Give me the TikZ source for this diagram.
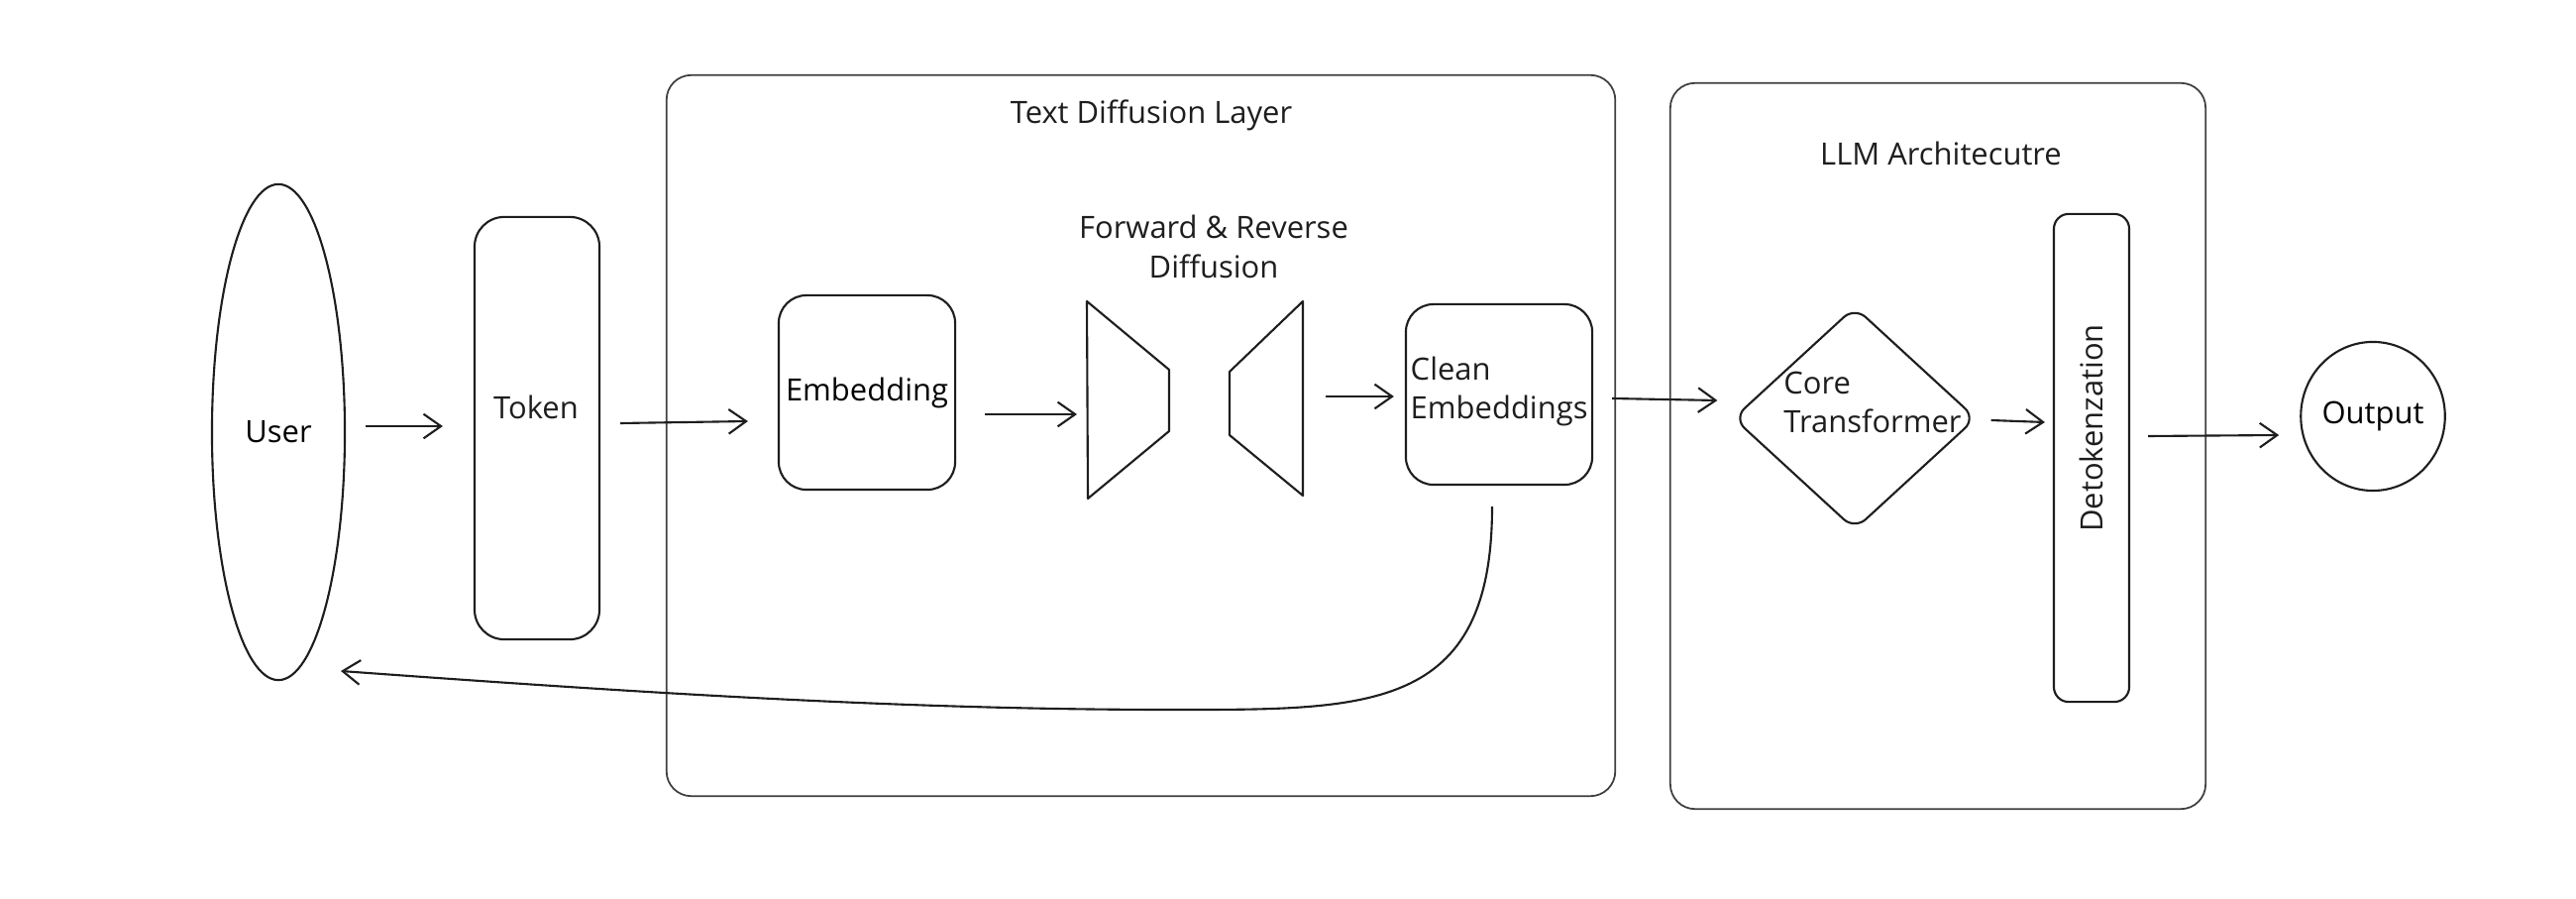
\documentclass[tikz,border=0pt]{standalone}
\usepackage{fontspec}
\setmainfont{Open Sans}
\usetikzlibrary{shapes.geometric,arrows.meta,calc}
\definecolor{ink}{HTML}{1E1E1E}
\begin{document}
\begin{tikzpicture}[x=0.01cm,y=-0.01cm,
  font=\fontsize{8.8}{11.3}\selectfont,
  box/.style={draw=ink, line width=0.6pt, rounded corners=0.28cm, inner sep=0pt},
  frame/.style={draw=ink!85, line width=0.5pt, rounded corners=0.25cm, inner sep=0pt},
  roundshape/.style={draw=ink, line width=0.6pt, ellipse, inner sep=0pt},
  trap/.style={draw=ink, line width=0.6pt, line join=round},
  arr/.style={draw=ink, line width=0.6pt, -{Straight Barb[length=5pt,width=7pt]}},
  lbl/.style={text=ink, inner sep=0pt}]
\useasboundingbox (0,0) rectangle (2600,907);
\fill[white] (0,0) rectangle (2600,907);

% containers
\node[frame, minimum width=9.57cm, minimum height=7.27cm] (tdl) at (1151.5,439.5) {};
\node[lbl] (tdlt) at (1162,116) {Text Diffusion Layer};
\node[frame, minimum width=5.40cm, minimum height=7.32cm] (llm) at (1956,450) {};
\node[lbl] (llmt) at (1959,155) {LLM Architecutre};

% nodes
\node[roundshape, minimum width=1.34cm, minimum height=5cm] (user) at (281,436) {User};
\node[box, rounded corners=0.3cm, minimum width=1.26cm, minimum height=4.26cm] (token) at (542,432) {};
\node[lbl] (tokent) at (541,411) {Token};
\node[box, minimum width=1.78cm, minimum height=1.96cm] (emb) at (875,396) {Embedding};

\draw[trap] (1097,304) -- (1180,373) -- (1180,435) -- (1098,503) -- cycle;
\draw[trap] (1315,304) -- (1241,375) -- (1241,439) -- (1315,500) -- cycle;
\coordinate (fwdin) at (1097,418);
\coordinate (revout) at (1315,400);
\node[lbl, align=center] (fdt) at (1225,249) {Forward \& Reverse\\Diffusion};

\node[box, minimum width=1.88cm, minimum height=1.82cm] (clean) at (1513,398) {};
\node[lbl, align=left, anchor=west] (cleant) at (1423,395) {Clean\\Embeddings};

\node[draw=ink, line width=0.6pt, diamond, minimum width=2.45cm, minimum height=2.25cm, inner sep=0pt, rounded corners=0.15cm] (core) at (1872,422) {};
\node[lbl, align=left] (coret) at (1890,406) {Core\\Transformer};

\node[box, rounded corners=0.15cm, minimum width=0.76cm, minimum height=4.92cm] (detok) at (2111,462) {};
\node[lbl, rotate=90] (detokt) at (2111,432) {Detokenzation};

\node[roundshape, minimum width=1.37cm, minimum height=1.5cm] (out) at (2395,420) {Output};

% connectors
\draw[arr] ($(user.east)+(20,-6)$) -- ($(token.west)+(-31,-2)$);
\draw[arr] ($(token.east)+(20,-5)$) -- ($(emb.west)+(-30,29)$);
\draw[arr] ($(emb.east)+(29,22)$) -- ($(fwdin)+(-10,0)$);
\draw[arr] ($(revout)+(23,0)$) -- ($(clean.west)+(-11,2)$);
\draw[arr] ($(clean.east)+(19,4)$) -- ($(core.west)+(-15,-18)$);
\draw[arr] ($(core.east)+(14,2)$) -- ($(detok.west)+(-8,-36)$);
\draw[arr] ($(detok.east)+(18,-22)$) -- ($(out.west)+(-21,19)$);

\coordinate (cs) at ($(clean.south)+(-7,21)$);
\coordinate (ue) at ($(user.center)+(63,241)$);
\draw[arr] (cs) .. controls (1506,720) and (1380,716) .. (1180,716)
  .. controls (900,716) and (620,697) .. (ue);
\end{tikzpicture}
\end{document}
